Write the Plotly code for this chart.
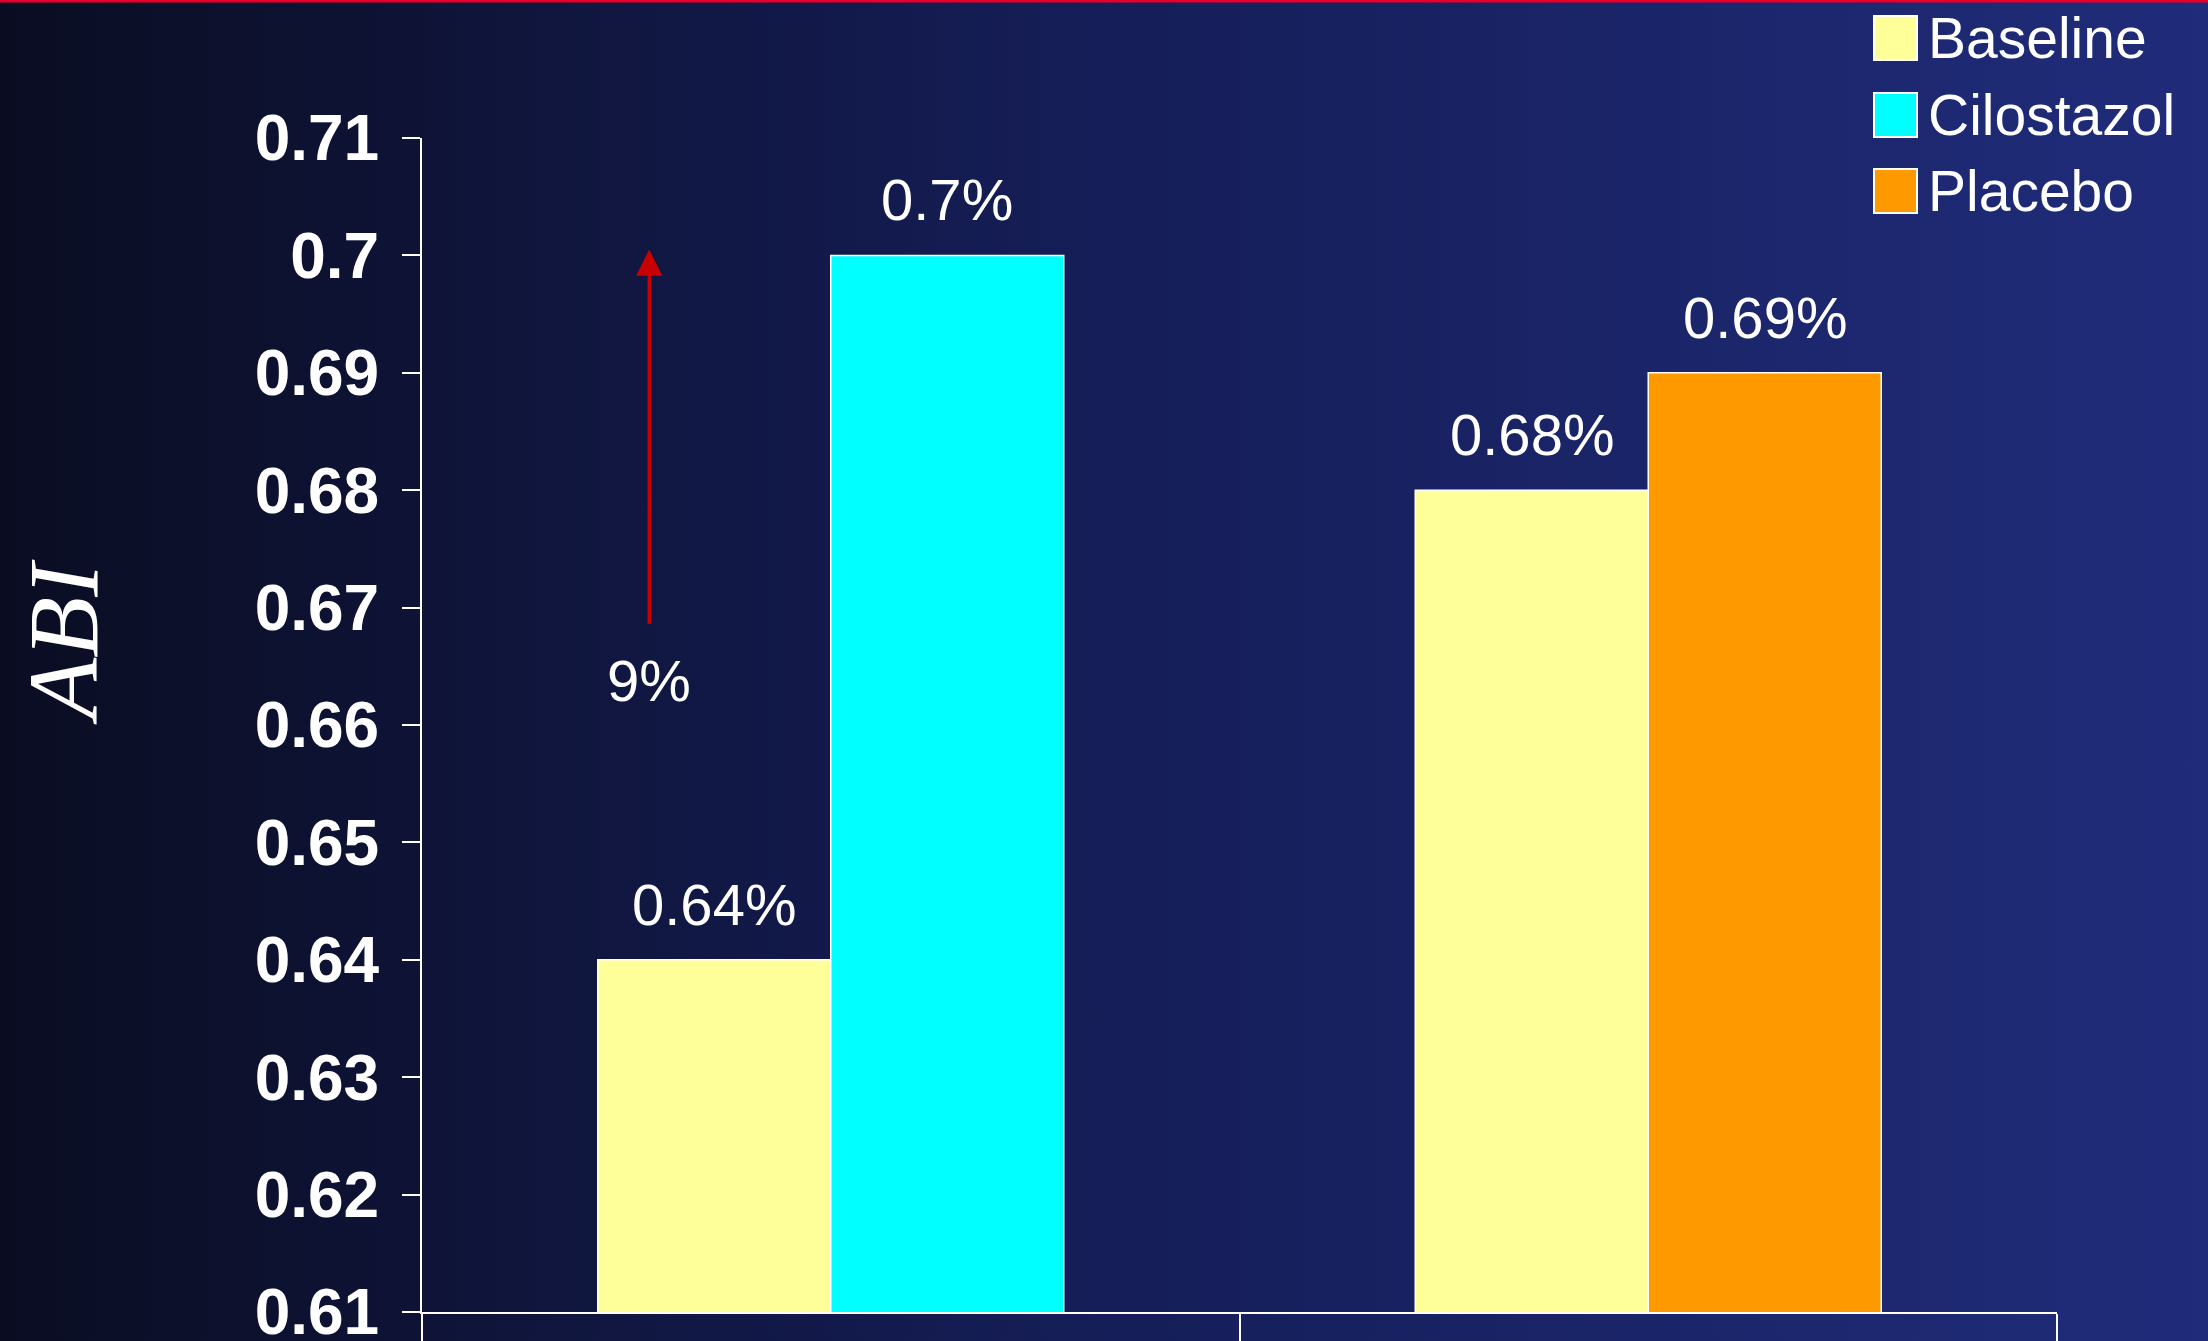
import base64
import plotly.graph_objects as go

# ---------------- data ----------------
groups = ["Cilostazol", "Placebo"]
baseline_vals = [0.64, 0.68]
cilostazol_vals = [0.70]
placebo_vals = [0.69]
series_names = ["Baseline", "Cilostazol", "Placebo"]
series_colors = ["#ffff99", "#00ffff", "#ff9900"]
y_ticks = [0.61, 0.62, 0.63, 0.64, 0.65, 0.66, 0.67, 0.68, 0.69, 0.70, 0.71]
y_tick_labels = ["0.61", "0.62", "0.63", "0.64", "0.65", "0.66", "0.67", "0.68", "0.69", "0.7", "0.71"]
y_title = "ABI"
arrow_from = 0.6685
arrow_to = 0.7005
arrow_label = "9%"
arrow_label_y = 0.6638

# ---------------- layout constants ----------------
W, H = 2208, 1341
ML, MR, MT, MB = 422, 151, 138, 29
PW, PH = W - ML - MR, H - MT - MB
BARGAP = 0.43
SLOT = (1 - BARGAP) / 2


def px(x):
    return (x - ML) / PW


def py(y):
    return 1 - (y - MT) / PH


fig = go.Figure()
line = dict(color="white", width=1.5)
fig.add_bar(x=groups, y=baseline_vals, name=series_names[0], offsetgroup="a",
            marker=dict(color=series_colors[0], line=line), showlegend=False)
fig.add_bar(x=groups[:1], y=cilostazol_vals, name=series_names[1], offsetgroup="b",
            marker=dict(color=series_colors[1], line=line), showlegend=False)
fig.add_bar(x=groups[1:], y=placebo_vals, name=series_names[2], offsetgroup="b",
            marker=dict(color=series_colors[2], line=line), showlegend=False)

annotations = []
label_font = dict(family="Liberation Sans, Arial", size=58, color="white")


def lab(v):
    return f"{v:g}%"


YS = 21
for i, v in enumerate(baseline_vals):
    annotations.append(dict(x=i - SLOT / 2, y=v, xref="x", yref="y", text=lab(v),
                            showarrow=False, yanchor="bottom", yshift=YS, font=label_font))
for v in cilostazol_vals:
    annotations.append(dict(x=0 + SLOT / 2, y=v, xref="x", yref="y", text=lab(v),
                            showarrow=False, yanchor="bottom", yshift=YS, font=label_font))
for v in placebo_vals:
    annotations.append(dict(x=1 + SLOT / 2, y=v, xref="x", yref="y", text=lab(v),
                            showarrow=False, yanchor="bottom", yshift=YS, font=label_font))

ARROW_X = -0.222
annotations.append(dict(x=ARROW_X, y=arrow_to, ax=ARROW_X, ay=arrow_from, xref="x", yref="y",
                        axref="x", ayref="y", text="", showarrow=True, arrowhead=2,
                        arrowsize=1.5, arrowwidth=3.5, arrowcolor="#c80000", standoff=0))
annotations.append(dict(x=ARROW_X, y=arrow_label_y, xref="x", yref="y", text=arrow_label,
                        showarrow=False, font=label_font))

# y axis title
annotations.append(dict(x=px(63), y=py(642), xref="paper", yref="paper", text="<i>" + y_title + "</i>",
                        textangle=-90, showarrow=False, xanchor="center", yanchor="middle",
                        font=dict(family="Liberation Serif, Times New Roman", size=100, color="white")))

# custom legend
shapes = []
legend_rows = [38, 115, 191]
for name, color, cy in zip(series_names, series_colors, legend_rows):
    shapes.append(dict(type="rect", xref="paper", yref="paper",
                       x0=px(1874), x1=px(1917), y0=py(cy - 22), y1=py(cy + 22),
                       fillcolor=color, line=dict(color="white", width=2)))
    annotations.append(dict(x=px(1926), y=py(cy), xref="paper", yref="paper", text=name,
                            showarrow=False, xanchor="left", yanchor="middle",
                            font=dict(family="Liberation Sans, Arial", size=57, color="white")))

# red line at top
shapes.append(dict(type="line", xref="paper", yref="paper", x0=px(0), x1=px(W), y0=py(1), y1=py(1),
                   line=dict(color="#e8002b", width=3)))

svg = ('<svg xmlns="http://www.w3.org/2000/svg" width="2208" height="1341" preserveAspectRatio="none">'
       '<defs><linearGradient id="g" x1="0" x2="1" y1="0" y2="0">'
       '<stop offset="0" stop-color="#0a0d22"/><stop offset="0.5" stop-color="#151e58"/>'
       '<stop offset="1" stop-color="#202c7a"/></linearGradient></defs>'
       '<rect width="2208" height="1341" fill="url(#g)"/></svg>')
src = "data:image/svg+xml;base64," + base64.b64encode(svg.encode()).decode()

fig.update_layout(
    width=W, height=H,
    margin=dict(l=ML, r=MR, t=MT, b=MB, autoexpand=False),
    paper_bgcolor="#0a0d22", plot_bgcolor="rgba(0,0,0,0)",
    barmode="group", bargap=BARGAP, bargroupgap=0,
    showlegend=False,
    annotations=annotations, shapes=shapes,
    images=[dict(source=src, xref="paper", yref="paper", x=px(0), y=py(0),
                 sizex=W / PW, sizey=H / PH, xanchor="left", yanchor="top",
                 sizing="stretch", layer="below")],
    xaxis=dict(type="category", showticklabels=False, showgrid=False, zeroline=False,
               showline=True, linecolor="white", linewidth=2,
               ticks="outside", tickson="boundaries", ticklen=30, tickcolor="white", tickwidth=2),
    yaxis=dict(range=[0.61, 0.71], tickvals=y_ticks, ticktext=y_tick_labels,
               showgrid=False, zeroline=False, showline=True, linecolor="white", linewidth=2,
               ticks="outside", ticklen=18, tickcolor="white", tickwidth=2,
               ticklabelstandoff=10, ticklabeloverflow="allow",
               tickfont=dict(family="Liberation Sans, Arial", size=64, color="white", weight="bold")),
)

fig.write_html("out.html")
